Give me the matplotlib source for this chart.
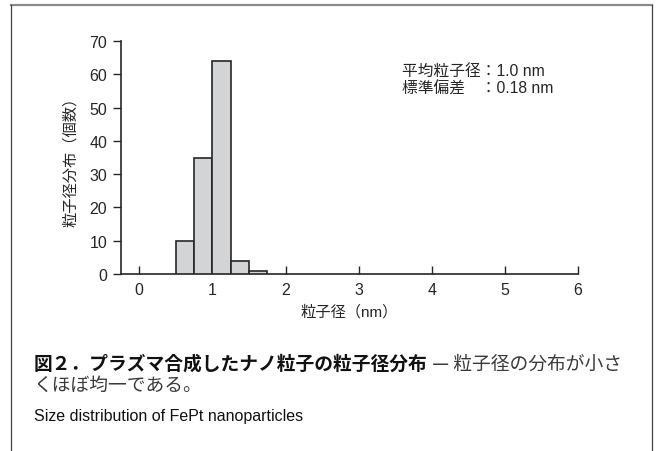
import matplotlib
matplotlib.use("Agg")
import matplotlib.pyplot as plt
from matplotlib.lines import Line2D

plt.rcParams["font.family"] = ["Liberation Sans", "Noto Sans CJK JP"]

# ── Data ─────────────────────────────────────────────────────────────────────
bin_left = [0.50, 0.75, 1.00, 1.25, 1.50]
bin_width = 0.25
counts = [10, 35, 64, 4, 1]

x_ticks = [0, 1, 2, 3, 4, 5, 6]
y_ticks = [0, 10, 20, 30, 40, 50, 60, 70]

mean_label = "平均粒子径：1.0 nm"
std_label = "標準偏差\u3000：0.18 nm"

caption_bold = "図２．プラズマ合成したナノ粒子の粒子径分布"
caption_rest = " — 粒子径の分布が小さ"
caption_line2 = "くほぼ均一である。"
caption_en = "Size distribution of FePt nanoparticles"

# ── Style ────────────────────────────────────────────────────────────────────
INK = "#262626"
BAR = "#d3d4d6"
FS = 11.5
CAP_FS = 13.5

fig = plt.figure(figsize=(6.58, 4.52), dpi=100)
fig.patch.set_facecolor("white")

W, H = 658, 452
ax = fig.add_axes([121 / W, 1 - 275 / H, (578 - 121) / W, (275 - 42) / H])

ax.bar(bin_left, counts, width=bin_width, align="edge",
       color=BAR, edgecolor=INK, linewidth=1.2, zorder=3)

ax.set_xlim(-0.25, 6)
ax.set_ylim(0, 70)
ax.set_xticks(x_ticks)
ax.set_yticks(y_ticks)

for side in ("top", "right"):
    ax.spines[side].set_visible(False)
for side in ("left", "bottom"):
    ax.spines[side].set_color(INK)
    ax.spines[side].set_linewidth(1.2)

ax.tick_params(axis="x", direction="in", length=6, width=1.0, color=INK,
               labelsize=FS, labelcolor=INK, pad=6)
ax.tick_params(axis="y", direction="out", length=6, width=1.0, color=INK,
               labelsize=FS, labelcolor=INK, pad=4)

ax.set_xlabel("粒子径（nm）", fontsize=11, color=INK, labelpad=5)
ax.set_ylabel("粒子径分布（個数）", fontsize=11, color=INK, labelpad=8)

ax.text(402 / W, 1 - 71 / H, mean_label, transform=fig.transFigure,
        fontsize=11.3, color=INK, va="center", ha="left")
ax.text(402 / W, 1 - 88.5 / H, std_label, transform=fig.transFigure,
        fontsize=11.3, color=INK, va="center", ha="left")

# ── Caption ──────────────────────────────────────────────────────────────────
t1 = fig.text(34 / W, 1 - 364 / H, caption_bold, fontsize=CAP_FS,
              fontweight="bold", color="#111111", va="center", ha="left",
              family=["Noto Sans CJK JP"])
ax.annotate(caption_rest, xy=(1, 0.5), xycoords=t1, va="center", ha="left",
            fontsize=CAP_FS, color="#3a3a3a", family=["Noto Sans CJK JP"],
            annotation_clip=False)
fig.text(34 / W, 1 - 385 / H, caption_line2, fontsize=CAP_FS,
         color="#3a3a3a", va="center", ha="left",
         family=["Noto Sans CJK JP"])
fig.text(34 / W, 1 - 417 / H, caption_en, fontsize=11.5, color="#111111",
         va="center", ha="left")

# ── Frame ────────────────────────────────────────────────────────────────────
fig.add_artist(Line2D([11 / W, 652 / W], [1 - 5.5 / H, 1 - 5.5 / H],
                      transform=fig.transFigure, color="#8a8a8a", lw=1.6))
fig.add_artist(Line2D([11 / W, 11 / W], [0, 1 - 5.5 / H],
                      transform=fig.transFigure, color="#444444", lw=0.9))
fig.add_artist(Line2D([652 / W, 652 / W], [0, 1 - 5.5 / H],
                      transform=fig.transFigure, color="#444444", lw=0.9))

fig.savefig("out.png", dpi=100, facecolor="white")
